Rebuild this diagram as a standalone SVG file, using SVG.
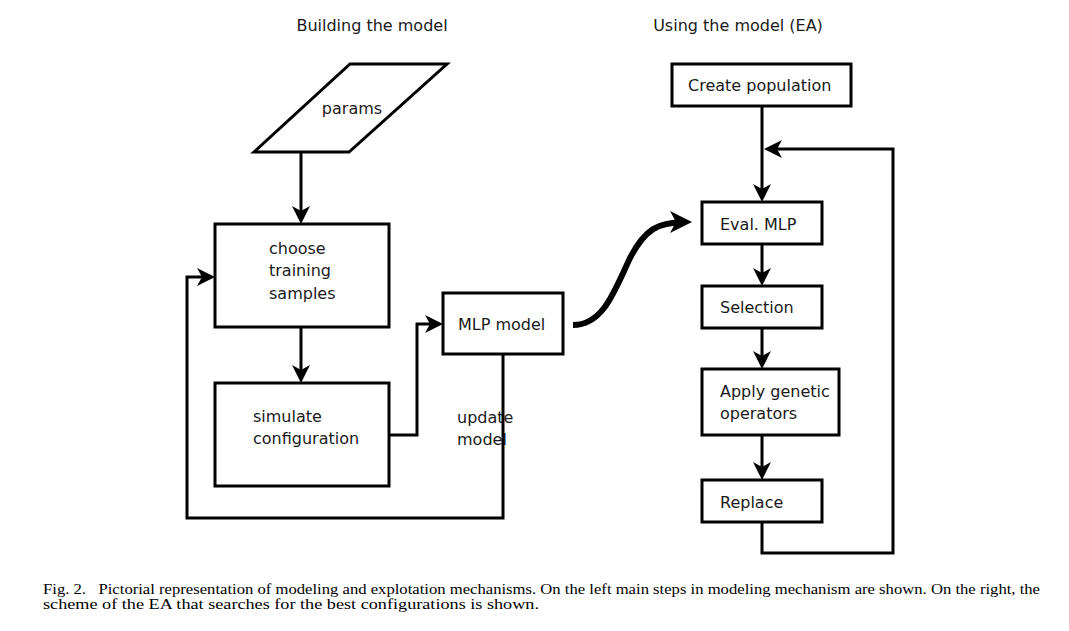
<svg xmlns="http://www.w3.org/2000/svg" width="1069" height="631" viewBox="0 0 1069 631">
<style>
.box{fill:#fff;stroke:#000;stroke-width:3}
.t{font-family:"DejaVu Sans",sans-serif;font-size:16px;fill:#1a1a1a}
.ln{fill:none;stroke:#000;stroke-width:3}
.cap{font-family:"Liberation Serif",serif;font-size:14px;fill:#000}
</style>
<defs>
<marker id="ah" markerUnits="userSpaceOnUse" markerWidth="40" markerHeight="40" refX="0" refY="0" orient="auto" overflow="visible" viewBox="-20 -20 40 40">
<path d="M-14,-9 L4,0 L-14,9 L-9,0 Z" fill="#000"/>
</marker>
<marker id="ahb" markerUnits="userSpaceOnUse" markerWidth="50" markerHeight="50" refX="0" refY="0" orient="auto" overflow="visible" viewBox="-25 -25 50 50">
<path d="M-16,-11 L6,0 L-16,11 L-10,0 Z" fill="#000"/>
</marker>
</defs>
<rect width="1069" height="631" fill="#fff"/>
<text class="t" x="372" y="31" text-anchor="middle">Building the model</text>
<text class="t" x="738" y="31" text-anchor="middle">Using the model (EA)</text>
<g id="update-label"><text class="t" x="457" y="423">update</text><text class="t" x="457" y="445">model</text></g>
<g id="connectors">
<path class="ln" d="M301,152 V220" marker-end="url(#ah)"/>
<path class="ln" d="M301,327 V379" marker-end="url(#ah)"/>
<path class="ln" d="M389,435 H417 V324 H439" marker-end="url(#ah)"/>
<path class="ln" d="M503,354 V518 H187 V277 H211" marker-end="url(#ah)"/>
<path fill="none" stroke="#000" stroke-width="6" d="M573,325 C603,325 614,292 630,258 C645,229 658,222 686,222" marker-end="url(#ahb)"/>
<path class="ln" d="M762,106 V198" marker-end="url(#ah)"/>
<path class="ln" d="M762,244 V282" marker-end="url(#ah)"/>
<path class="ln" d="M762,328 V365" marker-end="url(#ah)"/>
<path class="ln" d="M762,435 V476" marker-end="url(#ah)"/>
<path class="ln" d="M762,522 V553 H893 V149 H768" marker-end="url(#ah)"/>
</g>
<g id="params">
<polygon class="box" points="350,64 447,64 349,152 254,152"/>
<text class="t" x="352" y="114" text-anchor="middle">params</text>
</g>
<g id="choose">
<rect class="box" x="215" y="224" width="174" height="103"/>
<text class="t" x="269" y="254">choose</text>
<text class="t" x="269" y="276">training</text>
<text class="t" x="269" y="299">samples</text>
</g>
<g id="simulate">
<rect class="box" x="215" y="383" width="174" height="103"/>
<text class="t" x="253" y="422">simulate</text>
<text class="t" x="253" y="444">configuration</text>
</g>
<g id="mlp">
<rect class="box" x="443" y="293" width="120" height="61"/>
<text class="t" x="458" y="330">MLP model</text>
</g>
<g id="create">
<rect class="box" x="672" y="64" width="179" height="42"/>
<text class="t" x="688" y="91">Create population</text>
</g>
<g id="eval">
<rect class="box" x="702" y="202" width="120" height="42"/>
<text class="t" x="720" y="230">Eval. MLP</text>
</g>
<g id="selection">
<rect class="box" x="702" y="286" width="120" height="42"/>
<text class="t" x="720" y="313">Selection</text>
</g>
<g id="apply">
<rect class="box" x="702" y="369" width="137" height="66"/>
<text class="t" x="720" y="397">Apply genetic</text>
<text class="t" x="720" y="419">operators</text>
</g>
<g id="replace">
<rect class="box" x="702" y="480" width="120" height="42"/>
<text class="t" x="720" y="508">Replace</text>
</g>
<g id="caption">
<text class="cap" x="43" y="594" textLength="997" lengthAdjust="spacingAndGlyphs" xml:space="preserve">Fig. 2.   Pictorial representation of modeling and explotation mechanisms. On the left main steps in modeling mechanism are shown. On the right, the</text>
<text class="cap" x="43" y="609" textLength="496" lengthAdjust="spacingAndGlyphs">scheme of the EA that searches for the best configurations is shown.</text>
</g>
</svg>
